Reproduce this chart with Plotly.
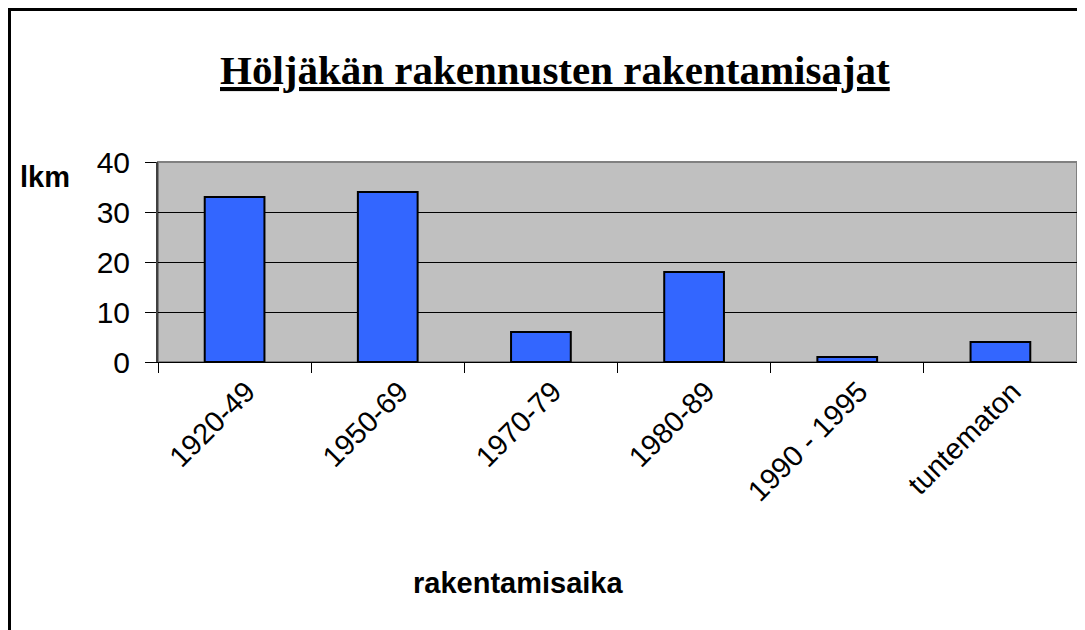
import plotly.graph_objects as go

categories = ["1920-49", "1950-69", "1970-79", "1980-89", "1990 - 1995", "tuntematon"]
values = [33, 34, 6, 18, 1, 4]
title_text = "Höljäkän rakennusten rakentamisajat"
y_label = "lkm"
x_label = "rakentamisaika"

# page body adds an 8px offset; work in screen pixels and convert
OFF = 8
W, H = 1085 - OFF, 630 - OFF
PL, PR, PT, PB = 158, 1077, 162, 362  # plot area in screen pixels
L, R, T, B = PL - OFF, (W + OFF) - PR, PT - OFF, (H + OFF) - PB
pw, ph = PR - PL, PB - PT

def px_x(p):
    return (p - PL) / pw

def px_y(p):
    return (PB - p) / ph

fig = go.Figure()
fig.add_trace(go.Bar(
    x=categories, y=values,
    marker=dict(color="#3366FF", line=dict(color="black", width=2)),
    hoverinfo="x+y",
))

fig.update_layout(
    width=W, height=H,
    margin=dict(l=L, r=R, t=T, b=B, autoexpand=False),
    paper_bgcolor="white",
    plot_bgcolor="#C0C0C0",
    bargap=0.61,
    showlegend=False,
    font=dict(family="Liberation Sans, Arial, sans-serif", color="black"),
    xaxis=dict(
        type="category",
        tickangle=-45,
        tickfont=dict(size=29),
        ticks="outside", tickson="boundaries", ticklen=10, tickcolor="black",
        ticklabelshift=12,
        showline=True, linecolor="black", linewidth=1,
        mirror=False, showgrid=False, zeroline=False,
    ),
    yaxis=dict(
        range=[0, 40], dtick=10,
        tickfont=dict(size=30),
        ticks="outside", ticklen=11, tickcolor="black",
        ticklabelstandoff=9,
        showline=True, linecolor="#404040", linewidth=2,
        showgrid=True, gridcolor="black", gridwidth=1,
        zeroline=False,
    ),
    annotations=[
        dict(text="<b>" + title_text + "</b>", x=px_x(555), y=px_y(70),
             xref="paper", yref="paper", showarrow=False,
             xanchor="center", yanchor="middle",
             font=dict(family="Liberation Serif, Times New Roman, serif", size=41, lineposition="under")),
        dict(text="<b>" + y_label + "</b>", x=px_x(45), y=px_y(177),
             xref="paper", yref="paper", showarrow=False,
             xanchor="center", yanchor="middle",
             font=dict(size=29)),
        dict(text="<b>" + x_label + "</b>", x=px_x(518), y=px_y(583),
             xref="paper", yref="paper", showarrow=False,
             xanchor="center", yanchor="middle",
             font=dict(size=29)),
    ],
    shapes=[
        dict(type="rect", xref="paper", yref="paper",
             x0=0, x1=1, y0=0, y1=1, line=dict(color="#808080", width=2), layer="below"),
        dict(type="line", xref="paper", yref="paper",
             x0=px_x(8), x1=px_x(1100), y0=px_y(9.5), y1=px_y(9.5), line=dict(color="black", width=3)),
        dict(type="line", xref="paper", yref="paper",
             x0=px_x(9.5), x1=px_x(9.5), y0=px_y(8), y1=px_y(650), line=dict(color="black", width=3)),
    ],
)

fig.write_html("out.html")
